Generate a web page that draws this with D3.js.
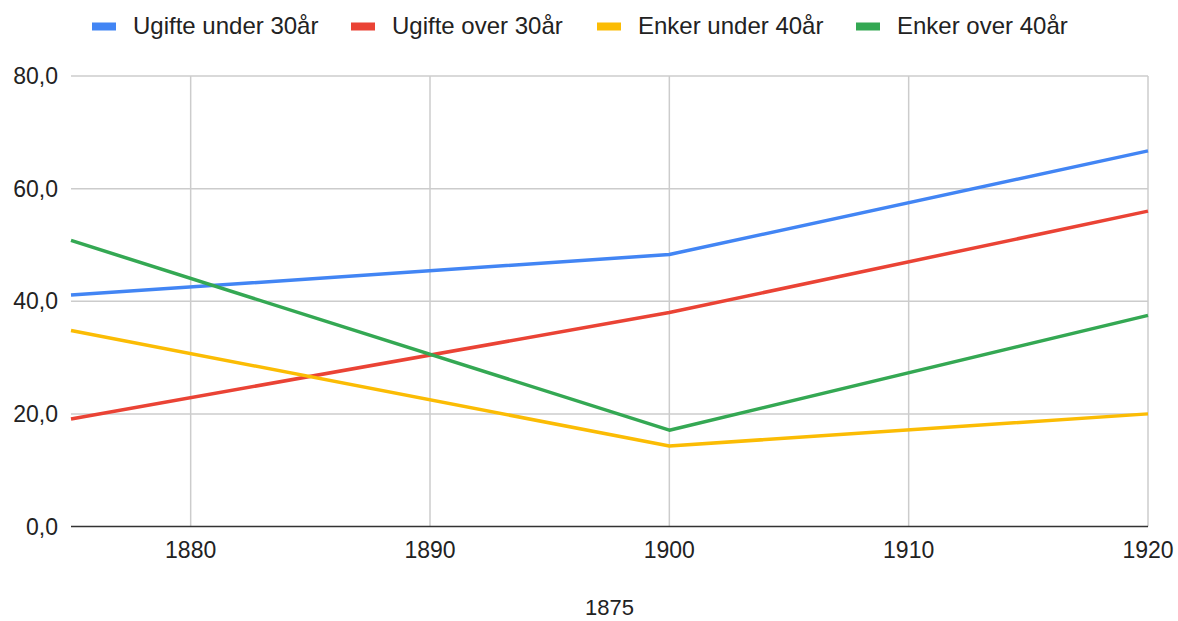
<!DOCTYPE html>
<html>
<head>
<meta charset="utf-8">
<script src="https://cdn.jsdelivr.net/npm/d3@7"></script>
<style>
  body { margin: 0; background: #fff; }
  text { font-family: "Liberation Sans", Arial, sans-serif; fill: #222; }
</style>
</head>
<body>
<div id="chart"></div>
<script>
// data
const years = [1875, 1900, 1920];
const seriesNames = ["Ugifte under 30år", "Ugifte over 30år", "Enker under 40år", "Enker over 40år"];
const ugifteUnder30 = [41.1, 48.3, 66.7];
const ugifteOver30 = [19.1, 38.0, 56.0];
const enkerUnder40 = [34.8, 14.3, 20.0];
const enkerOver40 = [50.8, 17.1, 37.5];
const xTicks = [1880, 1890, 1900, 1910, 1920];
const yTicks = [0, 20, 40, 60, 80];
const xTitle = "1875";

const colors = ["#4285F4", "#EA4335", "#FBBC04", "#34A853"];
const allSeries = [ugifteUnder30, ugifteOver30, enkerUnder40, enkerOver40];

const w = 1178, h = 621;
const padL = 71, padR = 1148, padT = 76, padB = 526.5;

const svg = d3.select('#chart').append('svg')
  .attr('width', w).attr('height', h);

const x = d3.scaleLinear().domain([1875, 1920]).range([padL, padR]);
const y = d3.scaleLinear().domain([0, 80]).range([padB, padT]);

// horizontal grid
svg.append('g').selectAll('line')
  .data(yTicks.filter(d => d > 0))
  .enter().append('line')
  .attr('x1', padL).attr('x2', padR)
  .attr('y1', d => y(d)).attr('y2', d => y(d))
  .attr('stroke', '#cccccc').attr('stroke-width', 1.5);

// vertical grid
svg.append('g').selectAll('line')
  .data(xTicks)
  .enter().append('line')
  .attr('x1', d => x(d)).attr('x2', d => x(d))
  .attr('y1', padT).attr('y2', padB)
  .attr('stroke', '#cccccc').attr('stroke-width', 1.5);

// y labels
const fmt = d => d3.format('.1f')(d).replace('.', ',');
svg.append('g').selectAll('text')
  .data(yTicks)
  .enter().append('text')
  .attr('x', 58).attr('y', d => y(d) + 8)
  .attr('text-anchor', 'end')
  .attr('font-size', 23)
  .text(fmt);

// x labels
svg.append('g').selectAll('text')
  .data(xTicks)
  .enter().append('text')
  .attr('x', d => x(d)).attr('y', 558)
  .attr('text-anchor', 'middle')
  .attr('font-size', 23)
  .text(d => d);

svg.append('text')
  .attr('x', (padL + padR) / 2).attr('y', 615)
  .attr('text-anchor', 'middle')
  .attr('font-size', 22)
  .text(xTitle);

// baseline
svg.append('line')
  .attr('x1', padL).attr('x2', padR)
  .attr('y1', padB).attr('y2', padB)
  .attr('stroke', '#333').attr('stroke-width', 1.5);

// lines
const line = d3.line().x((d, i) => x(years[i])).y(d => y(d));
allSeries.forEach(function(vals, i) {
  svg.append('path')
    .datum(vals)
    .attr('d', line)
    .attr('fill', 'none')
    .attr('stroke', colors[i])
    .attr('stroke-width', 3.5)
    .attr('stroke-linejoin', 'round');
});

// legend
const legendX = [92, 351, 597, 856];
const lg = svg.append('g').selectAll('g')
  .data(seriesNames)
  .enter().append('g')
  .attr('transform', (d, i) => 'translate(' + legendX[i] + ',0)');
lg.append('rect')
  .attr('x', 0).attr('y', 22.5).attr('width', 24).attr('height', 8)
  .attr('fill', (d, i) => colors[i]);
lg.append('text')
  .attr('x', 41).attr('y', 34)
  .attr('font-size', 24)
  .text(d => d);
</script>
</body>
</html>
